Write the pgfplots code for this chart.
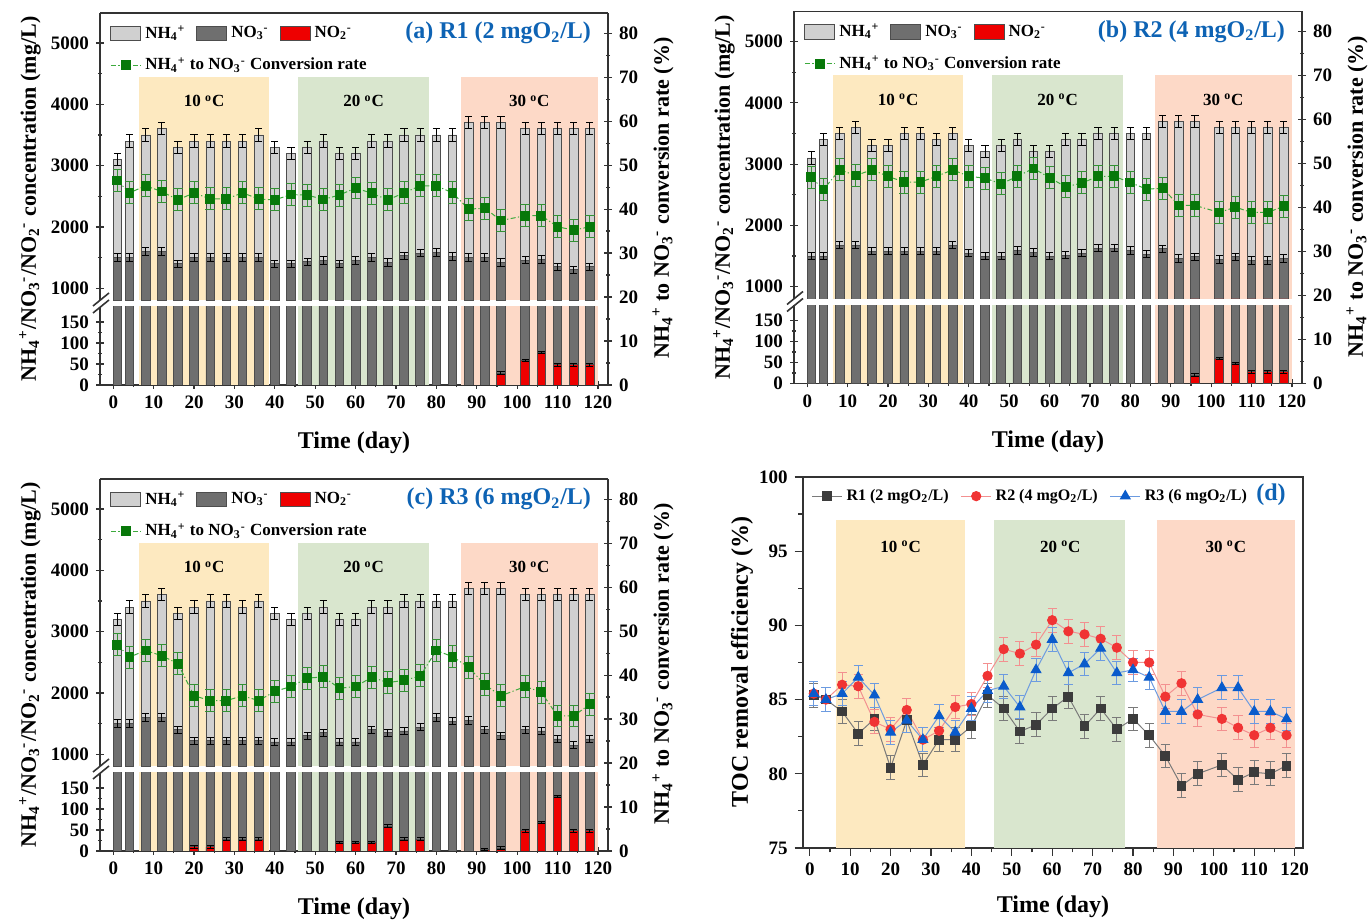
\documentclass[border=0pt]{standalone}
\usepackage{fontspec}
\setmainfont{Liberation Serif}
\usepackage{pgfplots}
\usepackage{pgfplotstable}
\pgfplotsset{compat=1.18}

% colours picked from the figure
\definecolor{nhc}{HTML}{D0D0D0}
\definecolor{noc}{HTML}{6F6F6F}
\definecolor{nic}{HTML}{EE0000}
\definecolor{edgec}{HTML}{4D4D4D}
\definecolor{sh10}{HTML}{FDE9C0}
\definecolor{sh20}{HTML}{D9E6CE}
\definecolor{sh30}{HTML}{FDD9C7}
\definecolor{ttl}{HTML}{0E63B4}
\definecolor{cvm}{HTML}{08780A}
\definecolor{cvl}{HTML}{3DAA3D}
\definecolor{axc}{HTML}{333333}
\definecolor{r1m}{HTML}{3C3C3C}
\definecolor{r1l}{HTML}{7A7A7A}
\definecolor{r2m}{HTML}{F03434}
\definecolor{r2l}{HTML}{F39090}
\definecolor{r3m}{HTML}{0A5BCB}
\definecolor{r3l}{HTML}{6C9BE0}

\newcommand{\nhf}{NH\textsubscript{4}\textsuperscript{+}}
\newcommand{\nth}{NO\textsubscript{3}\textsuperscript{-}}
\newcommand{\ntw}{NO\textsubscript{2}\textsuperscript{-}}
\newcommand{\degc}{\textsuperscript{o}C}
\newcommand{\tkfont}{\bfseries\fontsize{9.5}{11}\selectfont}
\newcommand{\lgfont}{\bfseries\fontsize{8.5}{10}\selectfont}
\newcommand{\lbfont}{\bfseries\fontsize{12}{14}\selectfont}
\newcommand{\ylfont}{\bfseries\fontsize{11}{13}\selectfont}

% day, top of NH4+ bar (total), top of NO3- bar, NH4+ -> NO3- conversion rate
\pgfplotstableread{
d tot no3 cr
1 3100 1500 46.5
4 3400 1500 43.7
8 3500 1600 45.3
12 3600 1600 44.0
16 3300 1400 42.1
20 3400 1500 43.7
24 3400 1500 42.3
28 3400 1500 42.3
32 3400 1500 43.7
36 3500 1500 42.3
40 3300 1400 42.1
44 3200 1400 43.3
48 3300 1430 43.2
52 3400 1450 42.2
56 3200 1400 43.2
60 3200 1450 44.8
64 3400 1500 43.6
68 3400 1420 42.1
72 3500 1530 43.7
76 3500 1570 45.3
80 3500 1580 45.3
84 3500 1520 43.7
88 3700 1500 40.0
92 3700 1500 40.2
96 3700 1420 37.4
102 3600 1460 38.5
106 3600 1470 38.5
110 3600 1350 36.0
114 3600 1300 35.2
118 3600 1350 36.0
}\tA
\pgfplotstableread{
d no2
96 28
102 58
106 78
110 48
114 48
118 48
}\nA

\pgfplotstableread{
d tot no3 cr
1 3100 1500 46.9
4 3400 1500 44.1
8 3500 1680 48.6
12 3600 1680 47.3
16 3300 1580 48.6
20 3300 1580 47.1
24 3500 1580 45.8
28 3500 1580 45.8
32 3400 1580 47.1
36 3500 1680 48.6
40 3300 1545 47.1
44 3200 1500 46.7
48 3300 1500 45.4
52 3400 1590 47.1
56 3200 1560 48.9
60 3200 1500 46.8
64 3400 1515 44.7
68 3400 1545 45.6
72 3500 1630 47.1
76 3500 1630 47.1
80 3500 1590 45.7
84 3500 1530 44.2
88 3700 1620 44.4
92 3700 1460 40.5
96 3700 1490 40.5
102 3600 1445 38.9
106 3600 1490 40.1
110 3600 1430 38.9
114 3600 1430 38.9
118 3600 1460 40.3
}\tB
\pgfplotstableread{
d no2
96 20
102 60
106 48
110 28
114 28
118 28
}\nB

\pgfplotstableread{
d tot no3 cr
1 3200 1500 46.9
4 3400 1500 44.1
8 3500 1600 45.6
12 3600 1600 44.4
16 3300 1400 42.6
20 3400 1220 35.3
24 3500 1220 34.2
28 3500 1220 34.2
32 3400 1220 35.3
36 3500 1220 34.2
40 3300 1200 36.3
44 3200 1200 37.4
48 3300 1300 39.3
52 3400 1350 39.6
56 3200 1200 37.0
60 3200 1200 37.4
64 3400 1400 39.5
68 3400 1350 38.3
72 3500 1380 38.8
76 3500 1440 39.8
80 3500 1600 45.6
84 3500 1540 44.2
88 3700 1550 41.8
92 3700 1400 37.8
96 3700 1300 35.3
102 3600 1400 37.4
106 3600 1380 36.1
110 3600 1250 30.7
114 3600 1150 30.7
118 3600 1250 33.4
}\tC
\pgfplotstableread{
d no2
20 10
24 10
28 28
32 28
36 28
56 20
60 20
64 20
68 59
72 28
76 28
92 3
96 7
102 48
106 68
110 130
114 48
118 48
}\nC

% TOC removal efficiency (%)
\pgfplotstableread{
d r1 r2 r3
1 85.3 85.4 85.4
4 85.0 85.0 85.0
8 84.2 86.0 85.4
12 82.7 85.9 86.5
16 83.7 83.5 85.3
20 80.4 83.0 82.8
24 83.6 84.3 83.6
28 80.6 82.3 82.3
32 82.3 82.9 83.9
36 82.3 84.5 82.8
40 83.2 84.7 84.4
44 85.3 86.6 85.6
48 84.4 88.4 85.9
52 82.85 88.1 84.5
56 83.3 88.7 87.0
60 84.4 90.35 89.05
64 85.2 89.6 86.8
68 83.2 89.4 87.4
72 84.4 89.1 88.45
76 83.0 88.5 86.8
80 83.7 87.5 87.0
84 82.6 87.5 86.5
88 81.2 85.2 84.2
92 79.2 86.1 84.2
96 80.0 84.0 85.0
102 80.6 83.7 85.8
106 79.6 83.1 85.8
110 80.1 82.6 84.2
114 80.0 83.1 84.2
118 80.55 82.6 83.7
}\tD

\pgfplotsset{
  base/.style={scale only axis, anchor=south west, xmin=-3.3, xmax=122.5,
    tick align=outside, major tick length=4pt, minor tick length=2.2pt,
    tick style={axc, line width=0.6pt},
    axis line style={axc, line width=0.8pt},
    tick label style={font=\tkfont},
    /pgf/number format/assume math mode=true,
    /pgf/number format/1000 sep={}},
  bars/.style={ybar, bar width=2.15, bar shift=0pt, draw=edgec, line width=0.4pt,
    legend image code/.code={\draw[##1] (0pt,-3.6pt) rectangle (15pt,3.6pt);}},
  ebar/.style={/pgfplots/error bars/y dir=both, /pgfplots/error bars/y explicit,
    /pgfplots/error bars/error bar style={black, line width=0.5pt},
    /pgfplots/error bars/error mark options={rotate=90, mark size=#1, black, line width=0.5pt}},
  linekey/.style={legend image code/.code={\draw[mark repeat=2, mark phase=2, ##1]
    plot coordinates {(0pt,0pt) (7.5pt,0pt) (15pt,0pt)};}},
  conv/.style={cvl, line width=0.5pt, dash pattern=on 2.5pt off 1.2pt on 0.6pt off 1.2pt,
    mark=square*, mark size=2.2pt, mark options={solid, draw=cvm, fill=cvm},
    /pgfplots/error bars/y dir=both, /pgfplots/error bars/y explicit,
    /pgfplots/error bars/error bar style={cvl!85!black, line width=0.5pt, solid},
    /pgfplots/error bars/error mark options={rotate=90, mark size=2.4pt, cvl!85!black, line width=0.5pt, solid}},
  ser/.style n args={3}{#1, line width=0.5pt, mark=#3, mark options={solid, draw=#2, fill=#2},
    /pgfplots/error bars/y dir=both, /pgfplots/error bars/y explicit,
    /pgfplots/error bars/error bar style={#1, line width=0.5pt},
    /pgfplots/error bars/error mark options={rotate=90, mark size=2.3pt, #1, line width=0.5pt}},
}

\newcommand{\tempzones}[1]{%
  \addplot[draw=none, fill=sh10, forget plot] coordinates {(6.4,#1) (38.5,#1)} \closedcycle;
  \addplot[draw=none, fill=sh20, forget plot] coordinates {(45.7,#1) (78.1,#1)} \closedcycle;
  \addplot[draw=none, fill=sh30, forget plot] coordinates {(86,#1) (120,#1)} \closedcycle;
}

% one panel with broken concentration axis: x shift, y shift (pt), table, NO2 table, title
\newcommand{\panel}[5]{%
  \begin{axis}[base, at={({#1pt+50pt},{#2pt+310.25pt})}, width=254pt, height=143.75pt,
    ymin=800, ymax=5490, axis x line=none, axis y line=left, axis line style={-},
    xtick=\empty, ytick={1000,2000,...,5000}, minor y tick num=1,
    legend columns=3,
    legend style={at={(0.008,0.985)}, anchor=north west, draw=none, fill=none, font=\lgfont,
      /tikz/every even column/.append style={column sep=3.5pt}}]
    \tempzones{4450}
    \addplot[bars, fill=nhc, ebar=1.8pt] table[x=d, y=tot, y error expr=100] {#3};
    \addplot[bars, fill=noc, ebar=1.8pt] table[x=d, y=no3, y error expr=60] {#3};
    \addplot[bars, fill=nic, ebar=1.8pt] table[x=d, y=no2, y error expr=3] {#4};
    \legend{\nhf, \nth, \ntw}
    \node[anchor=east, font=\bfseries\fontsize{12}{14}\selectfont, text=ttl]
      at ([shift={(-5pt,-10pt)}]rel axis cs:1,1) {#5};
  \end{axis}
  \begin{axis}[base, at={({#1pt+50pt},{#2pt+268pt})}, width=254pt, height=39pt,
    ymin=0, ymax=186, axis x line=bottom, axis y line=left, axis line style={-},
    xtick={0,10,...,120}, minor x tick num=1, ytick={0,50,100,150}, minor y tick num=1]
    \tempzones{4450}
    \addplot[bars, fill=noc] table[x=d, y=no3] {#3};
    \addplot[bars, fill=nic, ebar=1.8pt] table[x=d, y=no2, y error expr=3] {#4};
  \end{axis}
  \begin{axis}[base, at={({#1pt+50pt},{#2pt+268pt})}, width=254pt, height=186pt,
    ymin=0, ymax=84.6, axis x line=top, axis y line=right, axis line style={-},
    xtick=\empty, ytick={0,10,...,80}, minor y tick num=1,
    legend style={at={(0.008,0.903)}, anchor=north west, draw=none, fill=none, font=\lgfont}]
    \addplot[conv, linekey] table[x=d, y=cr, y error expr=2.5] {#3};
    \addlegendentry{\nhf{} to \nth{} Conversion rate}
    \node[font=\lgfont] at (axis cs:22.5,64.5) {10 \degc};
    \node[font=\lgfont] at (axis cs:62,64.5) {20 \degc};
    \node[font=\lgfont] at (axis cs:103,64.5) {30 \degc};
  \end{axis}
  \draw[axc, line width=0.8pt] ({#1pt+46.5pt},{#2pt+304pt}) -- ++(8pt,6.5pt);
  \draw[axc, line width=0.8pt] ({#1pt+46.5pt},{#2pt+307.5pt}) -- ++(8pt,6.5pt);
  \node[rotate=90, font=\ylfont] at ({#1pt+15pt},{#2pt+361pt}) {\nhf/\nth/\ntw{} concentration (mg/L)};
  \node[rotate=90, font=\ylfont] at ({#1pt+331.5pt},{#2pt+361.5pt}) {\nhf{} to \nth{} conversion rate (\%)};
  \node[font=\lbfont] at ({#1pt+177pt},{#2pt+239pt}) {Time (day)};
}

\begin{document}
\begin{tikzpicture}
\useasboundingbox (0,0) rectangle (686pt,460.5pt);
\panel{0}{0}{\tA}{\nA}{(a) R1 (2 mgO\textsubscript{2}/L)}
\panel{347}{0.75}{\tB}{\nB}{(b) R2 (4 mgO\textsubscript{2}/L)}
\panel{0}{-233}{\tC}{\nC}{(c) R3 (6 mgO\textsubscript{2}/L)}

\begin{axis}[base, at={(401.35pt,36.5pt)}, width=250pt, height=185.5pt,
  xmin=-1.75, xmax=122, ymin=75, ymax=100,
  xtick={0,10,...,120}, minor x tick num=1, ytick={75,80,...,100}, minor y tick num=1,
  xtick pos=left, ytick pos=left,
  legend columns=3,
  legend style={at={(0.005,0.99)}, anchor=north west, draw=none, fill=none,
    font=\bfseries\fontsize{8}{9}\selectfont,
    /tikz/every even column/.append style={column sep=4pt}}]
  \tempzones{97.1}
  \addplot[ser={r1l}{r1m}{square*}, mark size=2.2pt, linekey] table[x=d, y=r1, y error expr=0.8] {\tD};
  \addplot[ser={r2l}{r2m}{*}, mark size=2.3pt, linekey] table[x=d, y=r2, y error expr=0.8] {\tD};
  \addplot[ser={r3l}{r3m}{triangle*}, mark size=2.8pt, linekey] table[x=d, y=r3, y error expr=0.8] {\tD};
  \legend{R1 (2 mgO\textsubscript{2}/L), R2 (4 mgO\textsubscript{2}/L), R3 (6 mgO\textsubscript{2}/L)}
  \node[font=\lgfont] at (axis cs:22.5,95.3) {10 \degc};
  \node[font=\lgfont] at (axis cs:62,95.3) {20 \degc};
  \node[font=\lgfont] at (axis cs:103,95.3) {30 \degc};
  \node[anchor=east, font=\bfseries\fontsize{12}{14}\selectfont, text=ttl]
    at ([shift={(-5pt,-9pt)}]rel axis cs:1,1) {(d)};
\end{axis}
\node[rotate=90, font=\lbfont] at (371pt,129.5pt) {TOC removal efficiency (\%)};
\node[font=\lbfont] at (526.5pt,7pt) {Time (day)};
\end{tikzpicture}
\end{document}
